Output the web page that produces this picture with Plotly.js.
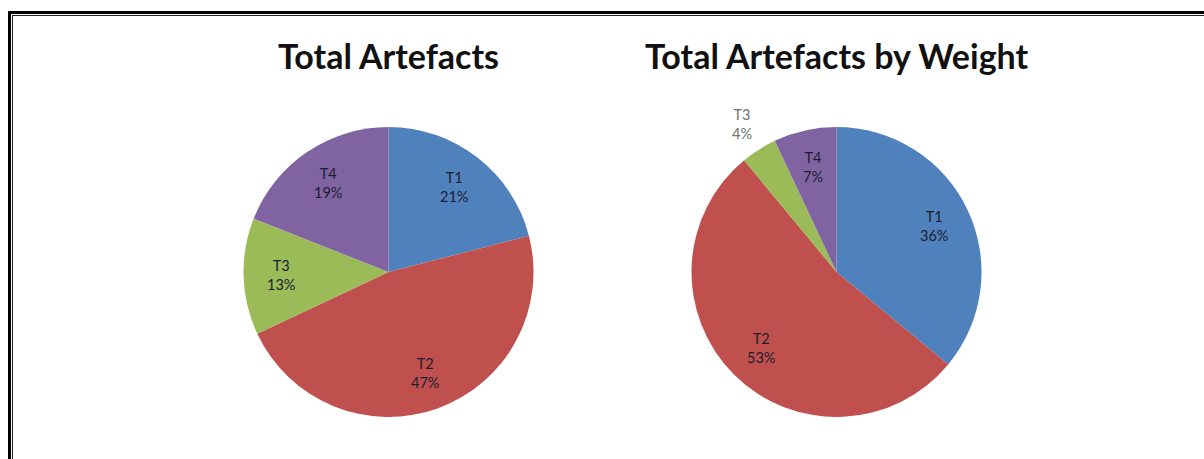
<!DOCTYPE html>
<html>
<head>
<meta charset="utf-8">
<script src="https://cdn.plot.ly/plotly-3.0.1.min.js"></script>
<style>html,body{margin:0;padding:0;background:#fff;}#chart{width:1204px;height:459px;}</style>
</head>
<body>
<div id="chart"></div>
<script>
var categories = ['T1', 'T2', 'T3', 'T4'];
var totalPercent = [21, 47, 13, 19];
var weightPercent = [36, 53, 4, 7];
var weightLabelOutside = [false, false, true, false];
var chartTitles = ['Total Artefacts', 'Total Artefacts by Weight'];
var sliceColors = ['#4F81BD', '#C0504D', '#9BBB59', '#8064A2'];

var W = 1204, H = 459;
function px(x) { return x / W; }
function py(y) { return 1 - y / H; }

var FONT = 'Lato, "Open Sans", sans-serif';
var pies = [
  {values: totalPercent, outside: [false, false, false, false], x0: 243, x1: 534, y0: 127, y1: 417, title: chartTitles[0]},
  {values: weightPercent, outside: weightLabelOutside, x0: 691, x1: 982, y0: 127, y1: 417, title: chartTitles[1]}
];

var traces = [];
var annotations = [];
pies.forEach(function (p) {
  traces.push({
    type: 'pie', values: p.values, labels: categories, sort: false,
    direction: 'clockwise', rotation: 0,
    marker: {colors: sliceColors, line: {width: 0}},
    textinfo: 'none',
    domain: {x: [px(p.x0), px(p.x1)], y: [py(p.y1), py(p.y0)]},
    hoverinfo: 'label+percent', showlegend: false
  });
  // label placement derived from slice geometry
  var cx = (p.x0 + p.x1) / 2, cy = (p.y0 + p.y1) / 2;
  var r = Math.min(p.x1 - p.x0, p.y1 - p.y0) / 2;
  var total = p.values.reduce(function (a, b) { return a + b; }, 0);
  var cum = 0;
  p.values.forEach(function (v, i) {
    var mid = (cum + v / 2) / total * 2 * Math.PI;
    cum += v;
    var k = p.outside[i] ? 1.21 : 0.74;
    var lx = cx + k * r * Math.sin(mid);
    var ly = cy - k * r * Math.cos(mid);
    annotations.push({
      text: categories[i] + '<br>' + Math.round(v / total * 100) + '%',
      x: px(lx), y: py(ly), xref: 'paper', yref: 'paper',
      showarrow: false, xanchor: 'center', yanchor: 'middle', align: 'center',
      font: {family: FONT, size: 14.5, color: p.outside[i] ? '#707070' : '#1c1c30'}
    });
  });
  annotations.push({
    text: '<b>' + p.title + '</b>', x: px(cx), y: py(56), xref: 'paper', yref: 'paper',
    showarrow: false, xanchor: 'center', yanchor: 'middle',
    font: {family: FONT, size: 34, color: '#111111'}
  });
});

var layout = {
  width: W, height: H,
  margin: {l: 0, r: 0, t: 0, b: 0},
  paper_bgcolor: '#ffffff',
  showlegend: false,
  annotations: annotations,
  shapes: [
    {type: 'line', xref: 'paper', yref: 'paper', x0: px(9.5), x1: px(9.5), y0: py(11), y1: 0, line: {color: '#000', width: 3}},
    {type: 'line', xref: 'paper', yref: 'paper', x0: px(8), x1: 1, y0: py(12.5), y1: py(12.5), line: {color: '#000', width: 3}},
    {type: 'line', xref: 'paper', yref: 'paper', x0: px(12.5), x1: px(12.5), y0: py(15), y1: 0, line: {color: '#222', width: 1}},
    {type: 'line', xref: 'paper', yref: 'paper', x0: px(12), x1: 1, y0: py(15.5), y1: py(15.5), line: {color: '#222', width: 1}}
  ]
};

Plotly.newPlot('chart', traces, layout, {displayModeBar: false, staticPlot: true});
</script>
</body>
</html>
